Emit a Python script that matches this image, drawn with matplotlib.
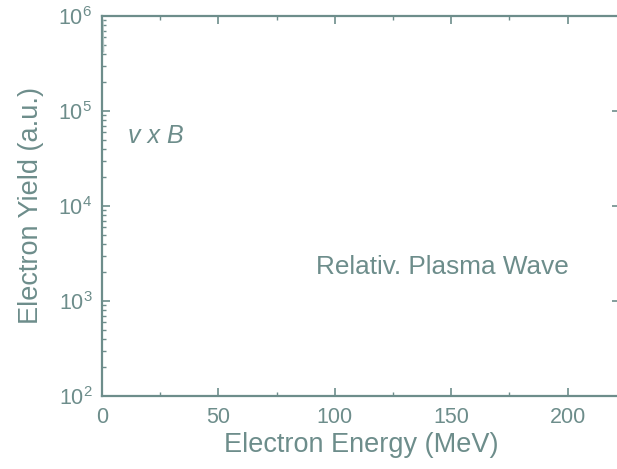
import matplotlib
matplotlib.use("Agg")
import matplotlib.pyplot as plt
from matplotlib.ticker import MultipleLocator, LogLocator

plt.rcParams['font.family'] = ['Liberation Sans', 'DejaVu Sans']
plt.rcParams['mathtext.default'] = 'regular'

# data (faint low-energy trace near the left edge)
energy = [0.4, 0.5, 0.6, 0.7]
yield_au = [9e5, 7e5, 5.5e5, 4.2e5]

xlim = (0, 222.5)
ylim = (1e2, 1e6)
xticks = [0, 50, 100, 150, 200]
labels = {"x": "Electron Energy (MeV)", "y": "Electron Yield (a.u.)"}
annotations = [("v x B", 11.2, 5.5e4, "italic", 18),
               ("Relativ. Plasma Wave", 91.8, 2.28e3, "normal", 18.8)]

C = "#6d8d8b"

fig = plt.figure(figsize=(6.17, 4.69), dpi=100)
ax = fig.add_axes([0.1653, 0.1557, 0.8396, 0.8102])

ax.plot(energy, yield_au, color="#b8c8c7", lw=1.0)

ax.set_yscale('log')
ax.set_xlim(*xlim)
ax.set_ylim(*ylim)
ax.set_xticks(xticks)
ax.xaxis.set_minor_locator(MultipleLocator(25))
ax.yaxis.set_major_locator(LogLocator(base=10, numticks=10))
ax.yaxis.set_minor_locator(LogLocator(base=10, subs=range(2, 10), numticks=20))

for s in ax.spines.values():
    s.set_color(C)
    s.set_linewidth(1.6)

ax.tick_params(which='both', direction='in', top=True, right=True, colors=C,
               labelsize=15.5)
ax.tick_params(axis='y', which='minor', right=False)
ax.tick_params(axis='x', which='major', pad=8)
ax.tick_params(axis='y', which='major', pad=7)
ax.tick_params(which='major', length=6, width=1.2)
ax.tick_params(which='minor', length=3, width=1.0)

ax.set_xlabel(labels["x"], fontsize=19.5, color=C, labelpad=3)
ax.set_ylabel(labels["y"], fontsize=19.5, color=C, labelpad=10)

for txt, x, y, style, fs in annotations:
    ax.text(x, y, txt, fontsize=fs, color=C, style=style, va='center', ha='left')

fig.savefig("out.png", dpi=100)
